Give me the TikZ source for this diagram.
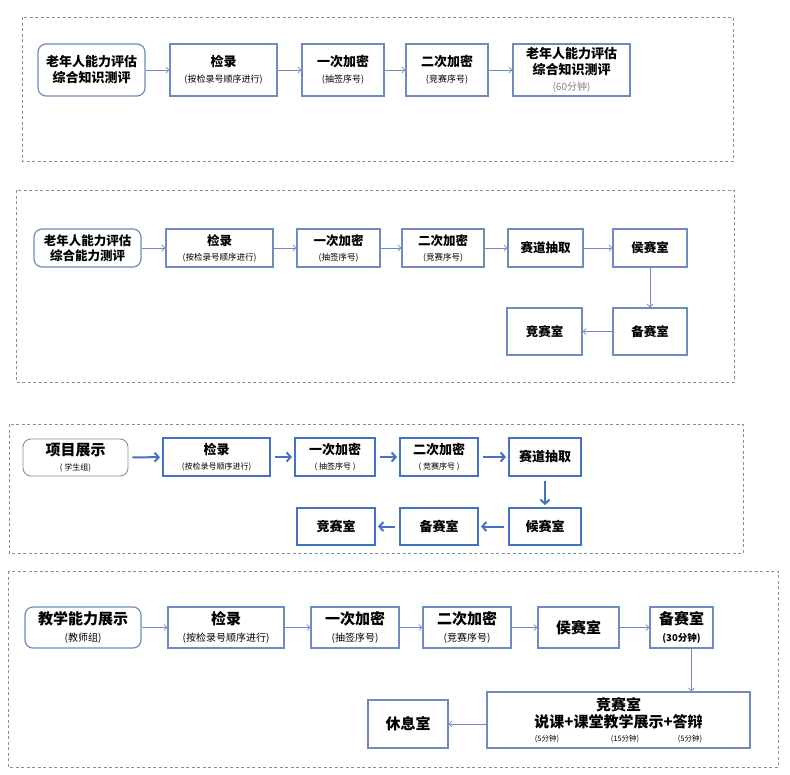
\documentclass[tikz,border=0pt]{standalone}
\usepackage{fontspec}
\setmainfont{Noto Sans CJK SC}
\usetikzlibrary{arrows.meta,positioning}
\definecolor{boxblue}{HTML}{6F8CC0}
\definecolor{deepblue}{HTML}{4472C4}
\definecolor{framegray}{HTML}{8090A8}
\definecolor{notegray}{HTML}{808080}
\newcommand{\subnote}[2][8]{{\mdseries\fontsize{#1}{#1}\selectfont #2}}
\tikzset{
  frame/.style={draw=framegray, line width=1pt, dash pattern=on 3pt off 2.5pt},
  box/.style 2 args={draw=boxblue, line width=1.2pt, fill=white, align=center,
    inner sep=1pt, minimum width=#1, minimum height=#2},
  startbox/.style 2 args={box={#1}{#2}, rounded corners=8pt},
  thickbox/.style 2 args={box={#1}{#2}, draw=deepblue, line width=2pt},
  link/.style={-{Straight Barb[length=3pt,width=6pt]}, draw=boxblue, line width=0.8pt},
  boldlink/.style={-{Straight Barb[length=4pt,width=9pt]}, draw=deepblue, line width=2pt,
    shorten <=4pt, shorten >=2pt}
}

\begin{document}
\begin{tikzpicture}[x=1pt, y=-1pt]
    \fill [white] (0,0) rectangle (790,774);
    \useasboundingbox (0,0) rectangle (790,774);

    % first panel
    \draw [frame] (22,17) rectangle (733,161);
    \begin{scope}[every node/.append style={font=\bfseries\fontsize{13}{16}\selectfont}]
    \node [startbox={107pt}{52pt}] (a1) at (91.5,70) {老年人能力评估\\综合知识测评};
    \node [box={107pt}{52pt}] (b1) at (223.5,70) {检录\\\subnote[9]{(按检录号顺序进行)}};
    \node [box={82pt}{52pt}] (c1) at (343,70) {一次加密\\\subnote[9]{(抽签序号)}};
    \node [box={82pt}{52pt}] (d1) at (447,70) {二次加密\\\subnote[9]{(竞赛序号)}};
    \node [box={117pt}{52pt}] (e1) at (571.5,70) {老年人能力评估\\综合知识测评\\\subnote[10]{\color{notegray}(60分钟)}};
    \end{scope}
    \draw [link] (a1) -- (b1);
    \draw [link] (b1) -- (c1);
    \draw [link] (c1) -- (d1);
    \draw [link] (d1) -- (e1);

    % second panel
    \draw [frame] (16,190) rectangle (734,382);
    \begin{scope}[every node/.append style={font=\bfseries\fontsize{12.5}{15}\selectfont}]
    \node [startbox={107pt}{38pt}] (a2) at (87.5,248) {老年人能力评估\\综合能力测评};
    \node [box={107pt}{38pt}] (b2) at (219.5,248) {检录\\\subnote[8.5]{(按检录号顺序进行)}};
    \node [box={83pt}{38pt}] (c2) at (338.5,248) {一次加密\\\subnote[8.5]{(抽签序号)}};
    \node [box={82pt}{38pt}] (d2) at (443,248) {二次加密\\\subnote[8.5]{(竞赛序号)}};
    \node [box={75pt}{38pt}] (e2) at (545.5,248) {赛道抽取};
    \node [box={74pt}{38pt}] (f2) at (650,248) {侯赛室};
    \node [box={74pt}{47pt}] (g2) at (650,331.5) {备赛室};
    \node [box={75pt}{47pt}] (h2) at (544.5,331.5) {竞赛室};
    \end{scope}
    \draw [link] (a2) -- (b2);
    \draw [link] (b2) -- (c2);
    \draw [link] (c2) -- (d2);
    \draw [link] (d2) -- (e2);
    \draw [link] (e2) -- (f2);
    \draw [link] (f2) -- (g2);
    \draw [link] (g2) -- (h2);

    % third panel
    \draw [frame] (9,424) rectangle (743,553);
    \begin{scope}[every node/.append style={font=\bfseries\fontsize{13}{15}\selectfont}]
    \node [startbox={105pt}{37pt}, draw=framegray, line width=0.9pt] (a3) at (75.5,457.5)
        {\fontsize{15}{17}\selectfont 项目展示\\\subnote[8]{( 学生组)}};
    \node [thickbox={107pt}{38pt}] (b3) at (216.5,457) {检录\\\subnote[8]{(按检录号顺序进行)}};
    \node [thickbox={80pt}{38pt}] (c3) at (335,457) {一次加密\\\subnote[8]{( 抽签序号 )}};
    \node [thickbox={78pt}{38pt}] (d3) at (439,457) {二次加密\\\subnote[8]{( 竞赛序号 )}};
    \node [thickbox={72pt}{38pt}] (e3) at (545,457) {赛道抽取};
    \node [thickbox={72pt}{37pt}] (f3) at (545,526.5) {候赛室};
    \node [thickbox={78pt}{37pt}] (g3) at (439,526.5) {备赛室};
    \node [thickbox={78pt}{37pt}] (h3) at (336,526.5) {竞赛室};
    \end{scope}
    \draw [boldlink] (a3) -- (b3);
    \draw [boldlink] (b3) -- (c3);
    \draw [boldlink] (c3) -- (d3);
    \draw [boldlink] (d3) -- (e3);
    \draw [boldlink] (e3) -- (f3);
    \draw [boldlink] (f3) -- (g3);
    \draw [boldlink] (g3) -- (h3);

    % fourth panel
    \draw [frame] (8,571) rectangle (778,767);
    \begin{scope}[every node/.append style={font=\bfseries\fontsize{15}{17}\selectfont}]
    \node [startbox={116pt}{41pt}] (a4) at (83,627.5) {教学能力展示\\\subnote[10]{(教师组)}};
    \node [box={116pt}{41pt}] (b4) at (226,627.5) {检录\\\subnote[10]{(按检录号顺序进行)}};
    \node [box={88pt}{41pt}] (c4) at (355,627.5) {一次加密\\\subnote[10]{(抽签序号)}};
    \node [box={88pt}{41pt}] (d4) at (467,627.5) {二次加密\\\subnote[10]{(竞赛序号)}};
    \node [box={81pt}{41pt}] (e4) at (578.5,627.5) {侯赛室};
    \node [box={63pt}{41pt}] (f4) at (681.5,627.5) {备赛室\\{\fontsize{9.5}{10}\selectfont (30分钟)}};
    \node [box={263pt}{56pt}] (g4) at (618.5,720) {竞赛室\\说课+课堂教学展示+答辩\\[-3pt]
        \subnote[7.5]{\makebox[20pt]{(5分钟)}\hspace{55pt}\makebox[26pt]{(15分钟)}\hspace{42pt}\makebox[20pt]{(5分钟)}}};
    \node [box={80pt}{48pt}] (h4) at (408,724) {休息室};
    \end{scope}
    \draw [link] (a4) -- (b4);
    \draw [link] (b4) -- (c4);
    \draw [link] (c4) -- (d4);
    \draw [link] (d4) -- (e4);
    \draw [link] (e4) -- (f4);
    \draw [link] ([xshift=10pt]f4.south) -- ([xshift=10pt]f4.south |- g4.north);
    \draw [link] (g4.west |- h4) -- (h4);
\end{tikzpicture}
\end{document}
